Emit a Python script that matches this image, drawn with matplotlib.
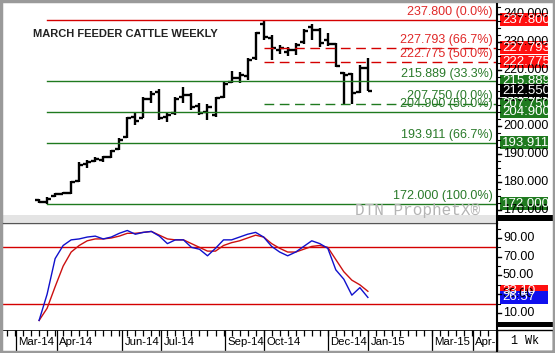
import matplotlib.pyplot as plt
import numpy as np
from matplotlib.patches import Rectangle
from matplotlib.lines import Line2D

# weekly bars, March feeder cattle (Mar-14 .. early Jan-15)
opens = [173.43, 172.72, 174.87, 175.58, 175.94, 180.23, 186.30, 187.38, 187.74, 188.81,
         191.67, 195.96, 203.11, 202.76, 209.55, 212.05, 203.11, 204.54, 210.26, 210.98,
         207.05, 204.90, 203.83, 210.26, 215.63, 217.06, 217.77, 224.21, 236.37, 231.36,
         227.07, 226.36, 227.07, 229.93, 235.30, 234.22, 230.65, 229.22, 218.85, 218.49,
         212.05, 220.64]
highs = [173.79, 174.51, 175.94, 176.29, 180.23, 187.02, 187.74, 188.81, 189.17, 191.31,
         195.60, 203.11, 204.54, 210.26, 212.41, 213.13, 204.90, 210.26, 213.84, 211.69,
         208.12, 207.76, 210.26, 215.63, 219.56, 219.20, 224.21, 233.51, 237.80, 232.44,
         228.86, 228.14, 229.57, 234.58, 236.37, 234.94, 233.15, 229.57, 219.20, 218.85,
         221.71, 224.21]
lows = [172.36, 172.00, 174.51, 175.58, 175.58, 179.87, 184.87, 187.02, 187.02, 188.45,
        191.31, 195.60, 200.25, 202.76, 208.12, 202.04, 201.32, 203.83, 208.12, 205.62,
        203.83, 202.04, 203.11, 209.91, 215.27, 215.27, 216.34, 223.50, 230.65, 223.50,
        225.64, 224.93, 225.28, 229.22, 230.65, 228.14, 228.50, 220.99, 207.75, 207.76,
        211.69, 212.55]
closes = [172.72, 173.79, 175.58, 175.94, 179.87, 185.95, 187.02, 188.09, 188.81, 190.95,
          194.89, 202.76, 201.68, 209.55, 211.34, 202.76, 203.83, 209.55, 210.98, 206.69,
          204.54, 206.69, 209.91, 214.91, 217.06, 218.13, 223.50, 233.15, 231.72, 227.79,
          227.79, 227.07, 228.86, 233.87, 234.22, 229.57, 229.22, 221.35, 218.13, 211.69,
          220.64, 212.55]

# stochastics
stoch_k = [2, 30, 68, 82, 88, 89, 91, 92, 89, 91, 95, 98, 94, 96, 97, 92, 84, 88, 88, 80,
           78, 71, 79, 88, 88, 91, 94, 96, 91, 81, 75, 71, 75, 81, 87, 84, 79, 56, 46, 29,
           37, 26.57]
stoch_d = [2, 15, 38, 60, 75, 82, 87, 89, 89, 90, 92, 95, 95, 96, 97, 93, 89, 88, 88, 84,
           80, 76, 76, 82, 85, 87, 90, 93, 91, 84, 79, 75, 75, 78, 81, 82, 80, 67, 54, 45,
           40, 33.10]

# retracement levels
fib_levels = [237.800, 227.793, 222.775, 215.889, 207.750, 204.900, 193.911, 172.000]
fib_pcts = ['0.0%', '66.7%', '50.0%', '33.3%', '0.0%', '50.0%', '66.7%', '100.0%']
fib_red = [True, True, True, False, False, False, False, False]
fib_dashed = [False, True, True, False, True, False, False, False]
fib_start = [1, 28, 28, 1, 28, 1, 1, 1]

month_labels = ['Mar-14', 'Apr-14', 'Jun-14', 'Jul-14', 'Sep-14', 'Oct-14',
                'Dec-14', 'Jan-15', 'Mar-15', 'Apr-']
month_pos = [-2.87, 2.24, 10.35, 15.21, 23.19, 28.05, 36.03, 41.02, 49.0, 54.1]

price_ticks = [170, 180, 190, 200, 210, 220, 230, 240]
stoch_ticks = [10, 30, 50, 70, 90]

RED = '#d40000'
GREEN = '#1f7a1f'
W, H = 555, 353


def fbox(x0, y0, x1, y1):
    return [x0 / W, 1 - y1 / H, (x1 - x0) / W, (y1 - y0) / H]


plt.rcParams['font.family'] = ['Liberation Sans', 'DejaVu Sans']

fig = plt.figure(figsize=(5.55, 3.53), dpi=100)
fig.patch.set_facecolor('white')

XL = (-4.5, 57.1)

# price panel
ax = fig.add_axes(fbox(3, 4, 497, 215))
ax.set_xlim(*XL)
ax.set_ylim(168.05, 243.52)
ax.set_axis_off()

x = np.arange(len(closes))
ax.vlines(x, lows, highs, color='black', lw=1.7)
ax.hlines(opens, x - 0.5, x, color='black', lw=1.7)
ax.hlines(closes, x, x + 0.5, color='black', lw=1.7)

for lev, pct, red, dash, st in zip(fib_levels, fib_pcts, fib_red, fib_dashed, fib_start):
    col = RED if red else GREEN
    ls = (0, (7, 4)) if dash else '-'
    ax.plot([st, XL[1]], [lev, lev], color=col, lw=1, ls=ls)
    ax.text(56.6, lev + 0.6, f'{lev:.3f} ({pct})', ha='right', va='bottom',
            fontsize=9, color='#e02828' if red else '#2a7a2a')

fig.text(33 / W, 1 - 34 / H, 'MARCH FEEDER CATTLE WEEKLY', fontsize=8,
         fontweight='bold', color='#222222', va='center')
fig.text(355 / W, 1 - 211 / H, 'DTN ProphetX\u00ae', family='Liberation Mono',
         fontsize=11.5, color='#b4b4b4', va='center')

# splitter between panels
fig.patches.append(Rectangle((3 / W, 1 - 222 / H), 494 / W, 7 / H,
                             transform=fig.transFigure, fc='#e4e4e4', ec='none'))
fig.add_artist(Line2D([3 / W, 497 / W], [1 - 222.5 / H] * 2, color='#555555', lw=1))

# stochastic panel
ax2 = fig.add_axes(fbox(3, 223, 497, 330))
ax2.set_xlim(*XL)
ax2.set_ylim(-8.2, 106)
ax2.set_axis_off()
ax2.axhline(80, color=RED, lw=1)
ax2.axhline(20, color=RED, lw=1)
ax2.plot(x, stoch_d, color='#cc1010', lw=1)
ax2.plot(x, stoch_k, color='#1010cc', lw=1)

# right scale, price
axr = fig.add_axes(fbox(497, 4, 555, 215))
axr.set_xlim(0, 58)
axr.set_ylim(ax.get_ylim())
axr.set_axis_off()
for v in price_ticks:
    axr.plot([0, 4], [v, v], color='black', lw=1)
    axr.text(6, v, f'{v:.3f}', va='center', fontsize=9, color='black')
for v in np.arange(167.5, 243, 2.5):
    axr.plot([0, 2.5], [v, v], color='black', lw=0.8)

hh = 13 * (243.52 - 168.05) / 211
boxes = [(237.800, RED, '237.800'), (227.793, RED, '227.793'), (222.775, RED, '222.775'),
         (215.889, GREEN, '215.889'), (207.750, GREEN, '207.750'),
         (212.550, 'black', '212.550'), (204.900, GREEN, '204.900'),
         (193.911, GREEN, '193.911'), (172.000, GREEN, '172.000')]
for v, c, t in boxes:
    axr.add_patch(Rectangle((3, v - hh / 2), 48, hh, fc='#ff1010' if c == RED else c,
                            ec='none'))
    axr.text(5, v, t, va='center', fontsize=9.5, color='white')

# right scale, stochastics
axr2 = fig.add_axes(fbox(497, 223, 555, 330))
axr2.set_xlim(0, 58)
axr2.set_ylim(ax2.get_ylim())
axr2.set_axis_off()
for v in stoch_ticks:
    axr2.plot([0, 4], [v, v], color='black', lw=1)
    axr2.text(6, v, f'{v:.2f}', va='center', fontsize=9, color='black')
for v in [20, 40, 60, 80, 100]:
    axr2.plot([0, 2.5], [v, v], color='black', lw=0.8)
hh2 = 13 * (106 + 8.2) / 107
for v, c in [(stoch_d[-1], '#ff1010'), (stoch_k[-1], '#1010ee')]:
    axr2.add_patch(Rectangle((3, v - hh2 / 2), 48, hh2, fc=c, ec='none'))
    axr2.text(5, v, f'{v:.2f}', va='center', fontsize=9.5, color='white')

# black bands in scale area
for y0, y1 in [(215, 221), (322, 327)]:
    fig.patches.append(Rectangle((497 / W, 1 - y1 / H), 56 / W, (y1 - y0) / H,
                                 transform=fig.transFigure, fc='black', ec='none'))

# date strip
axb = fig.add_axes(fbox(3, 330, 497, 351))
axb.set_xlim(*XL)
axb.set_ylim(1, 0)
axb.set_axis_off()
axb.axhline(0, color='black', lw=1.2)
axb.vlines(np.arange(-4, 57), 0, 0.27, color='black', lw=0.9)
axb.vlines(month_pos, 0, 1, color='black', lw=0.9)
for p, lab in zip(month_pos, month_labels):
    axb.text(p + 0.3, 0.58, lab, va='center', ha='left', fontsize=8.2, color='black')

# 1 Wk box
fig.patches.append(Rectangle((497 / W, 1 - 351 / H), 56 / W, 21 / H,
                             transform=fig.transFigure, fc='white', ec='black', lw=1))
fig.text(525 / W, 1 - 341 / H, '1 Wk', family='Liberation Mono', fontsize=8.5,
         ha='center', va='center')

# scale axis line and outer frame
fig.add_artist(Line2D([497 / W] * 2, [1 - 4 / H, 1 - 351 / H], color='black', lw=1.5))
fig.patches.append(Rectangle((0.002, 0.003), 0.996, 0.994, transform=fig.transFigure,
                             fill=False, ec='#9a9a9a', lw=2.5))

fig.savefig('out.png', dpi=100)
